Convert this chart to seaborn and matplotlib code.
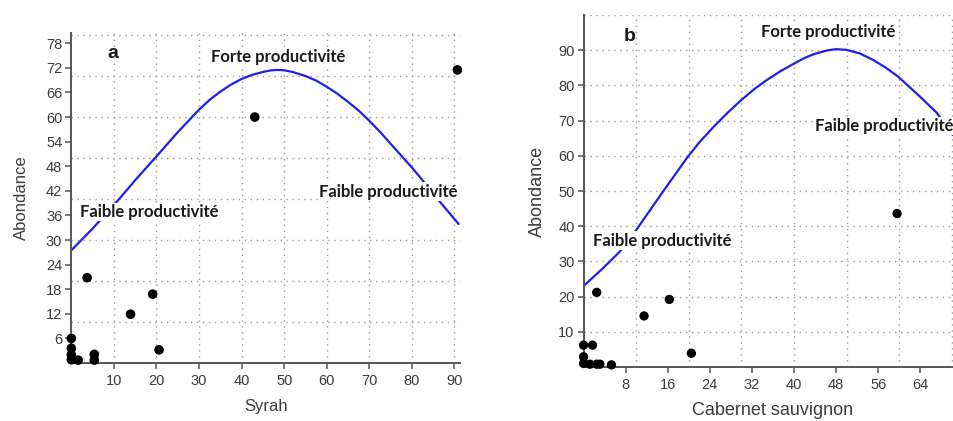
import numpy as np
import pandas as pd
import matplotlib
matplotlib.use("Agg")
import matplotlib.pyplot as plt
from matplotlib.ticker import FixedLocator
import seaborn as sns

# ---- Syrah panel (a) ----
syrah_x = [90.7, 43.1, 3.7, 19.1, 13.9, 20.6, 0.0, 0.0, 0.0, 0.0, 1.6, 5.4, 5.4]
syrah_y = [71.5, 60.0, 20.8, 16.8, 11.9, 3.2, 6.0, 3.6, 2.0, 0.8, 0.7, 2.1, 0.7]
syrah_fit_x = [0, 5, 10, 15, 20, 25, 30, 32.5, 35, 37.5, 40, 42.5, 45, 47, 48.5, 50,
               52, 55, 57.5, 60, 62.5, 65, 67.5, 70, 72.5, 75, 77.5, 80, 82.5, 85, 88, 91]
syrah_fit_y = [27.5, 32.8, 38.5, 44.6, 50.4, 56.3, 61.8, 64.2, 66.2, 67.9, 69.3, 70.3,
               71.0, 71.4, 71.5, 71.4, 71.0, 70.0, 68.9, 67.4, 65.7, 63.7, 61.6, 59.1,
               56.4, 53.5, 50.6, 47.7, 44.6, 41.3, 37.6, 33.9]
syrah_yticks = [6, 12, 18, 24, 30, 36, 42, 48, 54, 60, 66, 72, 78]
syrah_xticks = [10, 20, 30, 40, 50, 60, 70, 80, 90]

# ---- Cabernet sauvignon panel (b) ----
cab_x = [59.6, 2.5, 16.3, 11.5, 20.5, 0.0, 1.7, 0.0, 0.0, 1.2, 2.5, 3.1, 5.3]
cab_y = [43.6, 21.2, 19.2, 14.5, 3.9, 6.2, 6.2, 2.9, 1.0, 0.8, 0.8, 0.8, 0.6]
cab_fit_x = [0, 3.5, 6.9, 10.1, 14.8, 19.6, 22.0, 24.7, 27.5, 30.1, 32.5, 34.8, 37.5,
             39.9, 42.0, 44.0, 46.5, 48.0, 50.0, 52.5, 55.1, 57.5, 59.8, 63.6, 67.1, 70.2]
cab_fit_y = [23.0, 27.8, 32.8, 39.1, 49.2, 59.3, 63.8, 68.2, 72.4, 76.0, 79.0, 81.5,
             84.1, 86.1, 87.8, 89.0, 90.0, 90.3, 90.1, 89.1, 87.2, 85.0, 82.5, 77.3,
             72.3, 65.9]
cab_yticks = [10, 20, 30, 40, 50, 60, 70, 80, 90]
cab_xticks = [8, 16, 24, 32, 40, 48, 56, 64]

high_txt = "Forte productivité"
low_txt = "Faible productivité"

sns.set_theme(style="white")
plt.rcParams["font.family"] = ["Liberation Sans", "DejaVu Sans"]

AXIS_GRAY = "#555555"
TEXT_GRAY = "#3c3c3c"
CURVE = "#1f1fec"
GRID = dict(color="#9a9a9a", linestyle=(0, (1, 3.3)), linewidth=1.0)
NOTE = dict(fontsize=12, fontweight="bold", family=["Lato", "DejaVu Sans"],
            color="#1a1a1a", zorder=4,
            bbox=dict(facecolor="white", edgecolor="none", pad=1.0))

fig = plt.figure(figsize=(9.54, 4.21), dpi=100)
ax_a = fig.add_axes([0.0748, 0.1378, 0.4073, 0.7838])
ax_b = fig.add_axes([0.6117, 0.1283, 0.3970, 0.8360])


def style_axes(ax, xlim, ylim, xticks, yticks, xgrid, ygrid, xlabel, label_size,
               xpad, ypad):
    ax.set_xlim(*xlim)
    ax.set_ylim(*ylim)
    ax.xaxis.set_major_locator(FixedLocator(xticks))
    ax.yaxis.set_major_locator(FixedLocator(yticks))
    ax.xaxis.set_minor_locator(FixedLocator(xgrid))
    ax.yaxis.set_minor_locator(FixedLocator(ygrid))
    ax.xaxis.remove_overlapping_locs = False
    ax.yaxis.remove_overlapping_locs = False
    ax.grid(False)
    ax.xaxis.grid(True, which="minor", **GRID)
    ax.yaxis.grid(True, which="minor", **GRID)
    ax.set_axisbelow(True)
    for side in ("top", "right"):
        ax.spines[side].set_visible(False)
    for side in ("left", "bottom"):
        ax.spines[side].set_color(AXIS_GRAY)
        ax.spines[side].set_linewidth(1.4)
        ax.spines[side].set_zorder(5)
    ax.tick_params(which="major", direction="out", length=4, width=1.1,
                   color=AXIS_GRAY, labelcolor=TEXT_GRAY, labelsize=10.5,
                   left=True, bottom=True, pad=2.5)
    ax.tick_params(axis="x", which="major", pad=4)
    ax.tick_params(which="minor", length=0)
    ax.set_xlabel(xlabel, fontsize=label_size, color=TEXT_GRAY, labelpad=xpad)
    ax.set_ylabel("Abondance", fontsize=label_size, color=TEXT_GRAY, labelpad=ypad)


# panel a
sns.lineplot(x=syrah_fit_x, y=syrah_fit_y, ax=ax_a, color=CURVE, linewidth=1.6,
             estimator=None, zorder=3)
sns.scatterplot(x=syrah_x, y=syrah_y, ax=ax_a, color="black", s=48,
                edgecolor="none", zorder=6, clip_on=False)
style_axes(ax_a, (0, 91.3), (0, 80.5), syrah_xticks, syrah_yticks,
           syrah_xticks, [10, 20, 30, 40, 50, 60, 70, 80], "Syrah", 12,
           xpad=8, ypad=12)
ax_a.text(9.8, 75.5, "a", fontsize=14, fontweight="bold", color="#1a1a1a",
          ha="center", va="center")
ax_a.text(48.5, 74.7, high_txt, ha="center", va="center", **NOTE)
ax_a.text(74.5, 41.8, low_txt, ha="center", va="center", **NOTE)
ax_a.text(18.4, 36.8, low_txt, ha="center", va="center", **NOTE)

# panel b
sns.lineplot(x=cab_fit_x, y=cab_fit_y, ax=ax_b, color=CURVE, linewidth=1.6,
             estimator=None, zorder=3)
sns.scatterplot(x=cab_x, y=cab_y, ax=ax_b, color="black", s=45,
                edgecolor="none", zorder=6, clip_on=False)
style_axes(ax_b, (0, 72), (0, 100), cab_xticks, cab_yticks,
           [10, 20, 30, 40, 50, 60, 70], [10, 20, 30, 40, 50, 60, 70, 80, 90, 100],
           "Cabernet sauvignon", 13, xpad=7, ypad=9)
ax_b.text(8.7, 94.0, "b", fontsize=14, fontweight="bold", color="#1a1a1a",
          ha="center", va="center")
ax_b.text(46.5, 95.3, high_txt, ha="center", va="center", **NOTE)
ax_b.text(44.0, 68.5, low_txt, ha="left", va="center", **NOTE)
ax_b.text(14.9, 35.9, low_txt, ha="center", va="center", **NOTE)

fig.savefig("out.png", dpi=100)
